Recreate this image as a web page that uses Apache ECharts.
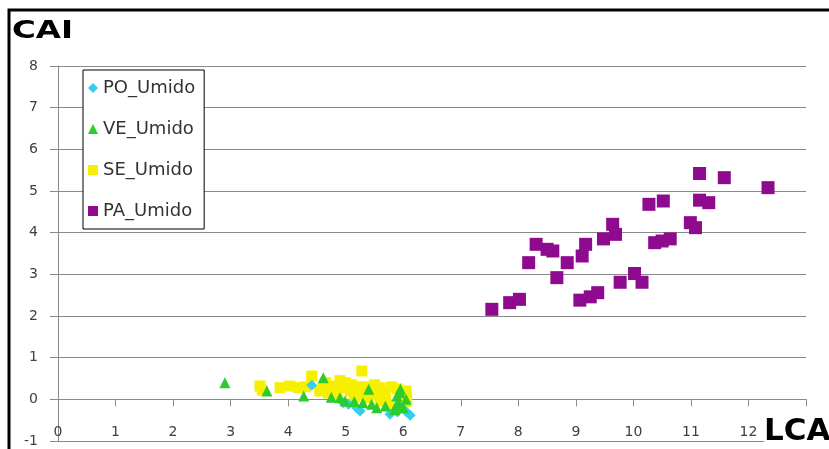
<!DOCTYPE html>
<html>
<head>
<meta charset="utf-8">
<script src="https://cdn.jsdelivr.net/npm/echarts@6/dist/echarts.min.js"></script>
<style>
  html, body { margin: 0; padding: 0; background: #fff; }
  #chart { width: 829px; height: 449px; }
</style>
</head>
<body>
<div id="chart"></div>
<script>
// LCA (x) / CAI (y) pairs
const seriesNames = ['PO_Umido', 'VE_Umido', 'SE_Umido', 'PA_Umido'];

const poUmido = [
  [4.41, 0.34], [4.96, -0.08], [5.05, -0.12], [5.19, -0.20], [5.25, -0.28],
  [5.77, -0.36], [5.90, -0.30], [6.04, -0.28], [6.12, -0.38]
];

const veUmido = [
  [2.90, 0.40], [3.63, 0.20], [4.27, 0.08], [4.61, 0.52], [4.75, 0.05],
  [4.90, 0.04], [4.99, -0.04], [5.15, -0.05], [5.30, -0.08], [5.40, 0.24],
  [5.45, -0.12], [5.54, -0.20], [5.69, -0.16], [5.85, -0.25], [5.87, -0.16],
  [5.89, 0.08], [5.92, -0.08], [5.95, 0.16], [5.95, 0.25], [6.00, -0.20],
  [6.05, 0.00]
];

const seUmido = [
  [3.51, 0.32], [3.55, 0.22], [3.86, 0.28], [4.03, 0.32], [4.18, 0.28],
  [4.30, 0.30], [4.41, 0.56], [4.55, 0.20], [4.61, 0.28], [4.65, 0.40],
  [4.70, 0.15], [4.79, 0.32], [4.80, 0.20], [4.85, 0.10], [4.90, 0.45],
  [4.96, 0.28], [5.00, 0.40], [5.08, 0.20], [5.10, 0.35], [5.15, 0.05],
  [5.20, 0.30], [5.25, 0.16], [5.28, 0.68], [5.30, 0.10], [5.35, 0.30],
  [5.37, 0.04], [5.43, 0.20], [5.50, 0.35], [5.50, 0.10], [5.60, 0.28],
  [5.60, -0.04], [5.65, 0.20], [5.69, 0.12], [5.74, -0.12], [5.80, 0.30],
  [5.90, 0.25], [6.05, 0.20], [6.05, -0.05], [6.06, 0.04]
];

const paUmido = [
  [7.54, 2.16], [7.85, 2.32], [8.02, 2.40], [8.18, 3.28], [8.31, 3.72],
  [8.50, 3.60], [8.60, 3.56], [8.67, 2.92], [8.85, 3.28], [9.07, 2.38],
  [9.11, 3.44], [9.17, 3.72], [9.25, 2.46], [9.38, 2.56], [9.48, 3.85],
  [9.64, 4.20], [9.69, 3.96], [9.77, 2.81], [10.02, 3.02], [10.15, 2.81],
  [10.27, 4.68], [10.37, 3.76], [10.50, 3.80], [10.52, 4.76], [10.64, 3.85],
  [10.99, 4.24], [11.08, 4.12], [11.15, 5.42], [11.15, 4.78], [11.31, 4.72],
  [11.58, 5.32], [12.34, 5.08]
];

const xMin = 0, xMax = 13, yMin = -1, yMax = 8;

const chart = echarts.init(document.getElementById('chart'));

const gridColor = '#8a8a8a';
const labelFont = { color: '#404040', fontSize: 14, fontFamily: 'DejaVu Sans' };

const option = {
  backgroundColor: '#fff',
  animation: false,
  grid: { left: 58, right: 23, top: 66, bottom: 8, containLabel: false, outerBoundsMode: 'none' },
  legend: {
    orient: 'vertical',
    left: 83,
    top: 70,
    padding: [9, 9, 9, 5],
    itemGap: 23,
    itemWidth: 10,
    itemHeight: 10,
    backgroundColor: '#fff',
    borderColor: '#000',
    borderWidth: 1,
    textStyle: { color: '#333', fontSize: 18, fontFamily: 'DejaVu Sans', lineHeight: 15 },
    data: [
      { name: seriesNames[0], icon: 'diamond' },
      { name: seriesNames[1], icon: 'triangle' },
      { name: seriesNames[2], icon: 'rect' },
      { name: seriesNames[3], icon: 'rect' }
    ]
  },
  xAxis: [
    {
      // axis line and ticks crossing at CAI = 0
      type: 'value',
      min: xMin,
      max: xMax,
      interval: 1,
      splitLine: { show: false },
      axisLine: { show: true, onZero: true, lineStyle: { color: gridColor, width: 1 } },
      axisTick: { show: true, length: 7, lineStyle: { color: gridColor } },
      axisLabel: { show: false }
    },
    {
      // tick labels sit low, just above the bottom gridline
      type: 'value',
      position: 'bottom',
      min: xMin,
      max: xMax,
      interval: 1,
      splitLine: { show: false },
      axisLine: { show: false, onZero: false },
      axisTick: { show: false },
      axisLabel: Object.assign({ inside: true, margin: 2, showMaxLabel: false }, labelFont)
    }
  ],
  yAxis: {
    type: 'value',
    min: yMin,
    max: yMax,
    interval: 1,
    splitLine: { show: true, lineStyle: { color: gridColor, width: 1 } },
    axisLine: { show: true, onZero: false, lineStyle: { color: gridColor, width: 1 } },
    axisTick: { show: true, length: 8, lineStyle: { color: gridColor } },
    axisLabel: Object.assign({ margin: 20 }, labelFont)
  },
  series: [
    {
      name: seriesNames[0], type: 'scatter', symbol: 'diamond', symbolSize: 11, z: 3,
      itemStyle: { color: '#33d0ee', opacity: 1 }, data: poUmido
    },
    {
      name: seriesNames[1], type: 'scatter', symbol: 'triangle', symbolSize: 11, z: 3,
      itemStyle: { color: '#2ccc2c', opacity: 1 }, data: veUmido
    },
    {
      // yellow sits underneath the cyan and green marks
      name: seriesNames[2], type: 'scatter', symbol: 'rect', symbolSize: 11, z: 2,
      itemStyle: { color: '#f6f000', opacity: 1 }, data: seUmido
    },
    {
      name: seriesNames[3], type: 'scatter', symbol: 'rect', symbolSize: 13, z: 3,
      itemStyle: { color: '#8e0a8e', opacity: 1 }, data: paUmido
    }
  ],
  graphic: [
    // outer frame (left and top only, as in the picture)
    {
      type: 'polyline', z: 100,
      shape: { points: [[9, 449], [9, 10], [829, 10]] },
      style: { stroke: '#000', lineWidth: 3, fill: null }
    },
    {
      type: 'text', left: 12, top: 19, z: 100, scaleX: 1.3,
      style: { text: 'CAI', fill: '#000', font: 'bold 25px "DejaVu Sans"' }
    },
    {
      type: 'text', left: 764, top: 416, z: 100,
      style: { text: 'LCA', fill: '#000', font: 'bold 31px "DejaVu Sans"', backgroundColor: '#fff' }
    }
  ]
};

chart.setOption(option);
window.addEventListener('resize', () => chart.resize());
</script>
</body>
</html>
